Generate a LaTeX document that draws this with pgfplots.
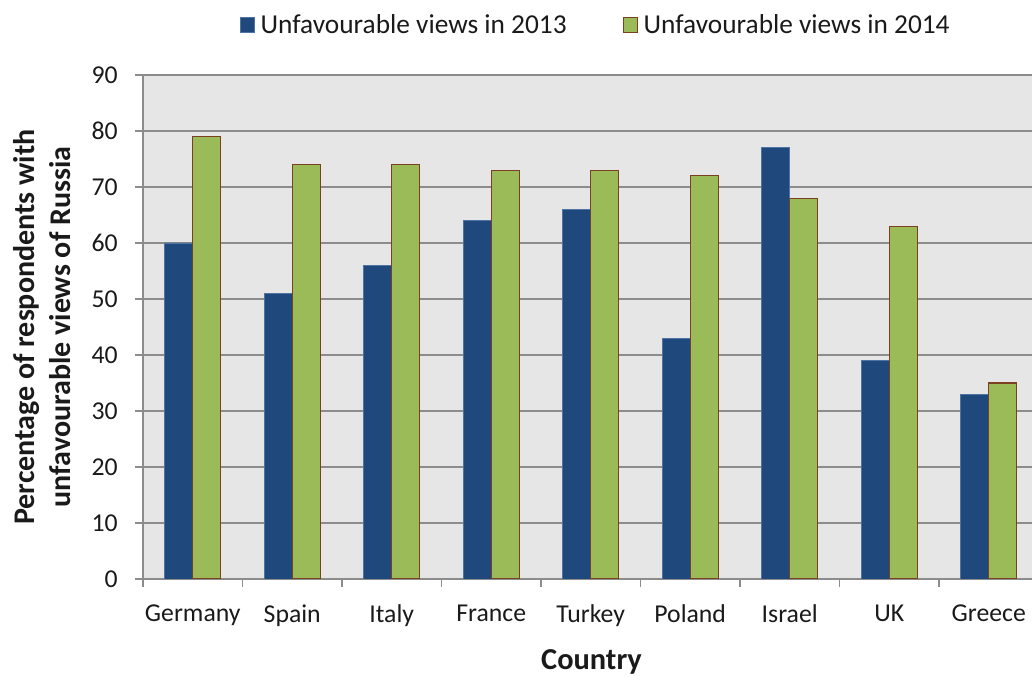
\documentclass[border=0pt]{standalone}
\usepackage{pgfplots}
\pgfplotsset{compat=1.18}
\usepackage{fontspec}
\setmainfont{Carlito}
\definecolor{bluebar}{HTML}{1F497D}
\definecolor{blueedge}{HTML}{4F73A3}
\definecolor{greenbar}{HTML}{9BBB59}
\definecolor{greenedge}{HTML}{7B3F22}
\definecolor{plotbg}{HTML}{E6E6E6}
\definecolor{gridc}{HTML}{8C8C8C}
\definecolor{txt}{HTML}{1A1A1A}
\begin{document}
\begin{tikzpicture}
\begin{axis}[
  at={(0,0)}, anchor=south west,
  scale only axis,
  width=666.75pt, height=378pt,
  xmin=-0.5, xmax=8.435,
  ymin=0, ymax=90,
  ytick={0,10,...,90},
  xtick={0,...,8},
  xticklabels={Germany,Spain,Italy,France,Turkey,Poland,Israel,UK,Greece},
  minor xtick={-0.5,0.5,...,8.5},
  major x tick style={draw=none},
  minor tick length=6pt,
  major tick length=6pt,
  tick align=outside,
  tick style={gridc, line width=0.9pt},
  axis x line*=bottom, axis y line*=left,
  axis line style={gridc, line width=0.9pt, -},
  ymajorgrids, grid style={gridc, line width=1pt},
  axis background/.style={fill=plotbg},
  font=\fontsize{19.3}{22}\selectfont,
  tick label style={font=\fontsize{19.3}{22}\selectfont, text=txt},
  /pgf/number format/assume math mode=true,
  xticklabel style={yshift=-10pt},
  yticklabel style={xshift=-9.5pt},
  ybar, bar width=0.28,
  xlabel={Country},
  xlabel style={at={(axis description cs:0.5045,-0.165)}, anchor=center, font=\fontsize{22.8}{26}\selectfont\bfseries, text=txt},
  ylabel={Percentage of respondents with\\unfavourable views of Russia},
  ylabel style={at={(axis description cs:-0.1136,0.5)}, anchor=center, align=center, font=\fontsize{22.5}{26.5}\selectfont\bfseries, text=txt},
  legend style={at={(axis description cs:0.5096,1.0992)}, anchor=center, draw=none, fill=none,
    legend columns=2, font=\fontsize{20.5}{24}\selectfont, text=txt,
    /tikz/every odd column/.append style={column sep=2pt},
    /tikz/every even column/.append style={column sep=40pt}},
  legend image code/.code={\draw[#1, line width=0.7pt] (0pt,-5.5pt) rectangle (11pt,5.5pt);},
]
\addplot[fill=bluebar, draw=blueedge, line width=0.6pt, bar shift=-0.14] coordinates {
 (0,60) (1,51) (2,56) (3,64) (4,66) (5,43) (6,77) (7,39) (8,33)};
\addplot[fill=greenbar, draw=greenedge, line width=0.8pt, bar shift=0.14] coordinates {
 (0,79) (1,74) (2,74) (3,73) (4,73) (5,72) (6,68) (7,63) (8,35)};
\legend{Unfavourable views in 2013, Unfavourable views in 2014}
\end{axis}
\pgfresetboundingbox
\path[use as bounding box] (-107.25pt,-73.5pt) rectangle (666.75pt,434.25pt);
\end{tikzpicture}
\end{document}
